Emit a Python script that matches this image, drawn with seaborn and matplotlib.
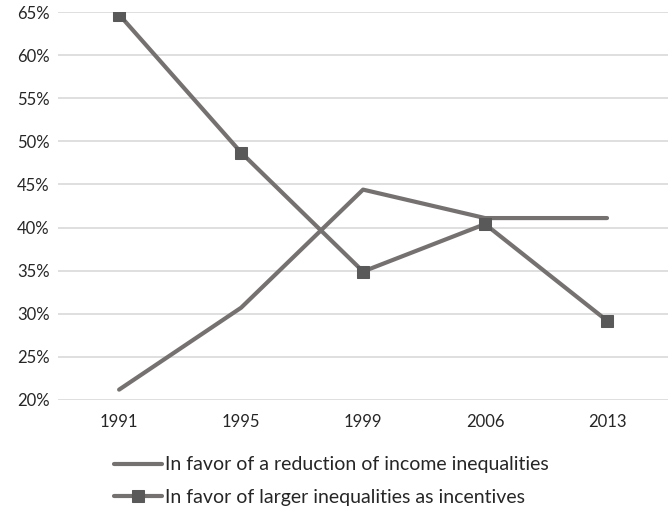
import matplotlib
matplotlib.use("Agg")
import matplotlib.pyplot as plt
import seaborn as sns
import pandas as pd
from matplotlib.ticker import FuncFormatter

years = ["1991", "1995", "1999", "2006", "2013"]
reduction = [21.2, 30.7, 44.4, 41.1, 41.1]
incentives = [64.7, 48.7, 34.9, 40.4, 29.2]
label_reduction = "In favor of a reduction of income inequalities"
label_incentives = "In favor of larger inequalities as incentives"
y_ticks = [20, 25, 30, 35, 40, 45, 50, 55, 60, 65]

sns.set_style("white")
plt.rcParams["font.family"] = ["Lato", "DejaVu Sans"]

df = pd.DataFrame({
    "year": years * 2,
    "share": reduction + incentives,
    "series": [label_reduction] * len(years) + [label_incentives] * len(years),
})

fig = plt.figure(figsize=(6.68, 5.13), dpi=100)
ax = fig.add_axes([0.087, 0.2203, 0.913, 0.7563])

line_color = "#767171"
marker_color = "#595959"

sns.lineplot(data=df[df.series == label_reduction], x="year", y="share",
             color=line_color, linewidth=3.0, ax=ax, label=label_reduction,
             solid_capstyle="round", sort=False)
sns.lineplot(data=df[df.series == label_incentives], x="year", y="share",
             color=line_color, linewidth=3.0, marker="s", markersize=8,
             markerfacecolor=marker_color, markeredgecolor=marker_color,
             ax=ax, label=label_incentives, sort=False)

ax.set_xlim(-0.5, 4.5)
ax.set_ylim(20, 65)
ax.set_yticks(y_ticks)
ax.yaxis.set_major_formatter(FuncFormatter(lambda v, p: f"{v:.0f}%"))
ax.grid(axis="y", color="#d9d9d9", linewidth=1.2)
ax.set_axisbelow(True)
for s in ax.spines.values():
    s.set_visible(False)
ax.tick_params(axis="both", length=0, labelsize=12, colors="#262626")
ax.tick_params(axis="y", pad=6)
ax.tick_params(axis="x", pad=10)
ax.set_xlabel("")
ax.set_ylabel("")

handles, labels = ax.get_legend_handles_labels()
ax.get_legend().remove()
fig.legend(handles, labels, loc="center", bbox_to_anchor=(0.496, 0.0625),
           ncol=1, frameon=False, fontsize=14, handlelength=2.45,
           handletextpad=0.15, labelspacing=0.78, labelcolor="#262626")

fig.savefig("out.png", dpi=100)
